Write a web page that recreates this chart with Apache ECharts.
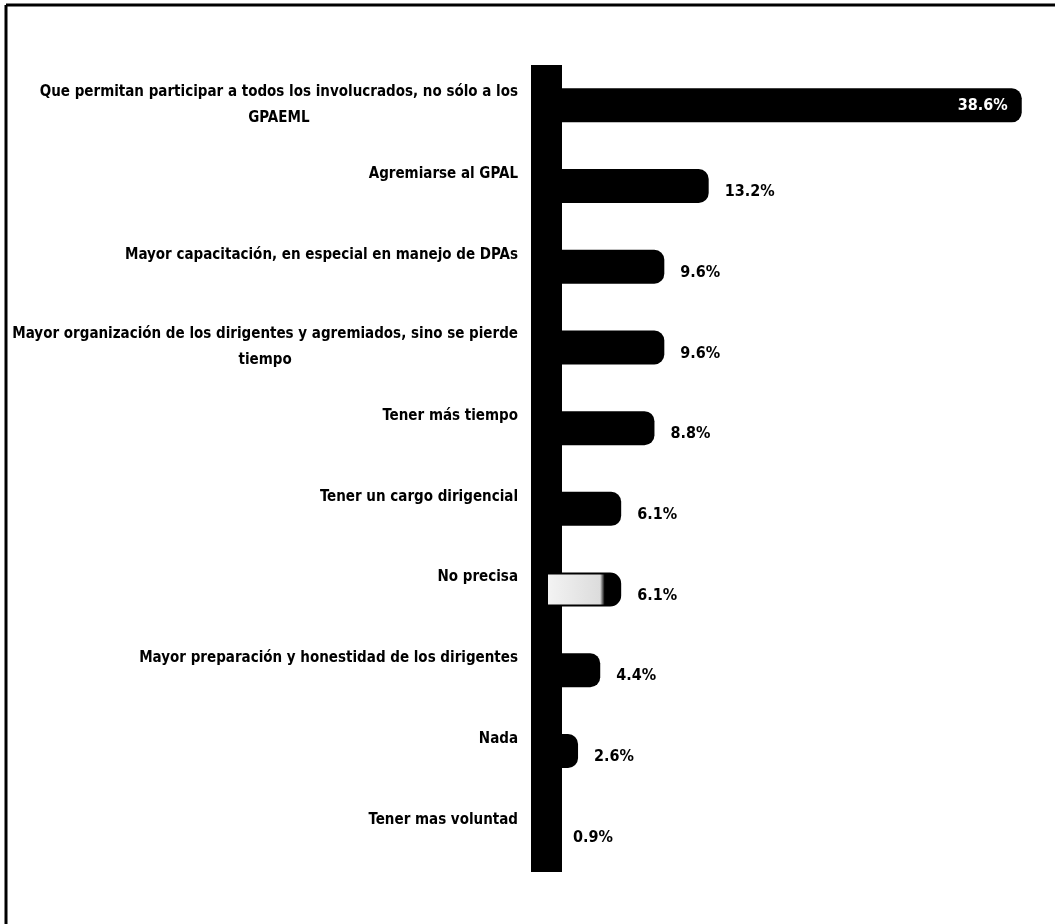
<!DOCTYPE html>
<html><head><meta charset="utf-8">
<script src="https://cdn.jsdelivr.net/npm/echarts@6/dist/echarts.min.js"></script>
<style>html,body{margin:0;padding:0;background:#fff}#c{width:1055px;height:924px}</style>
</head><body><div id="c"></div>
<script>
const categories = [
  'Que permitan participar a todos los involucrados, no sólo a los\nGPAEML',
  'Agremiarse al GPAL',
  'Mayor capacitación, en especial en manejo de DPAs',
  'Mayor organización de los dirigentes y agremiados, sino se pierde\ntiempo',
  'Tener más tiempo',
  'Tener un cargo dirigencial',
  'No precisa',
  'Mayor preparación y honestidad de los dirigentes',
  'Nada',
  'Tener mas voluntad'
];
const values = [38.6, 13.2, 9.6, 9.6, 8.8, 6.1, 6.1, 4.4, 2.6, 0.9];

const FONT = "'Liberation Sans Narrow', 'DejaVu Sans Condensed', sans-serif";

const data = values.map((v, i) => {
  const item = { value: v };
  if (i === 0) {
    item.label = { position: 'insideRight', color: '#fff', offset: [0, 0], distance: 14 };
  }
  if (i === 6) {
    item.itemStyle = {
      color: { type: 'linear', x: 0, y: 0, x2: 1, y2: 0, colorStops: [
        { offset: 0, color: '#f4f4f4' }, { offset: 0.72, color: '#dcdcdc' },
        { offset: 0.78, color: '#000' }, { offset: 1, color: '#000' }] },
      borderColor: '#000', borderWidth: 2
    };
  }
  return item;
});

const chart = echarts.init(document.getElementById('c'));
chart.setOption({
  backgroundColor: '#fff',
  animation: false,
  graphic: [
    { type: 'line', shape: { x1: 6, y1: 5, x2: 1055, y2: 5 }, style: { stroke: '#000', lineWidth: 3 } },
    { type: 'line', shape: { x1: 6, y1: 5, x2: 6, y2: 924 }, style: { stroke: '#000', lineWidth: 3 } }
  ],
  grid: { left: 546, right: 16, top: 65, bottom: 52, containLabel: false, outerBoundsMode: 'none' },
  xAxis: { type: 'value', min: 0, max: 40, show: false },
  yAxis: {
    type: 'category', data: categories, inverse: true,
    axisLine: { show: true, lineStyle: { color: '#000', width: 31, cap: 'butt' } },
    axisTick: { show: false },
    axisLabel: {
      margin: 28, align: 'right', color: '#000',
      fontFamily: FONT, fontWeight: 'bold', fontSize: 15,
      formatter: function (v) {
        const lines = v.split('\n');
        if (lines.length === 1) return '{s|' + v + '}';
        return lines.map(l => '{m|' + l + '}').join('\n');
      },
      rich: {
        s: { fontFamily: FONT, fontWeight: 'bold', fontSize: 15, color: '#000', lineHeight: 20, padding: [0, 0, 24, 0] },
        m: { fontFamily: FONT, fontWeight: 'bold', fontSize: 15, color: '#000', lineHeight: 26, align: 'center' }
      }
    }
  },
  series: [{
    type: 'bar', data: data, barWidth: 34,
    itemStyle: { color: '#000', borderRadius: [0, 10, 10, 0] },
    label: {
      show: true, position: 'right', distance: 16, offset: [0, 6],
      color: '#000', fontFamily: FONT, fontWeight: 'bold', fontSize: 16,
      formatter: p => p.value.toFixed(1) + '%'
    }
  }]
});
</script></body></html>
